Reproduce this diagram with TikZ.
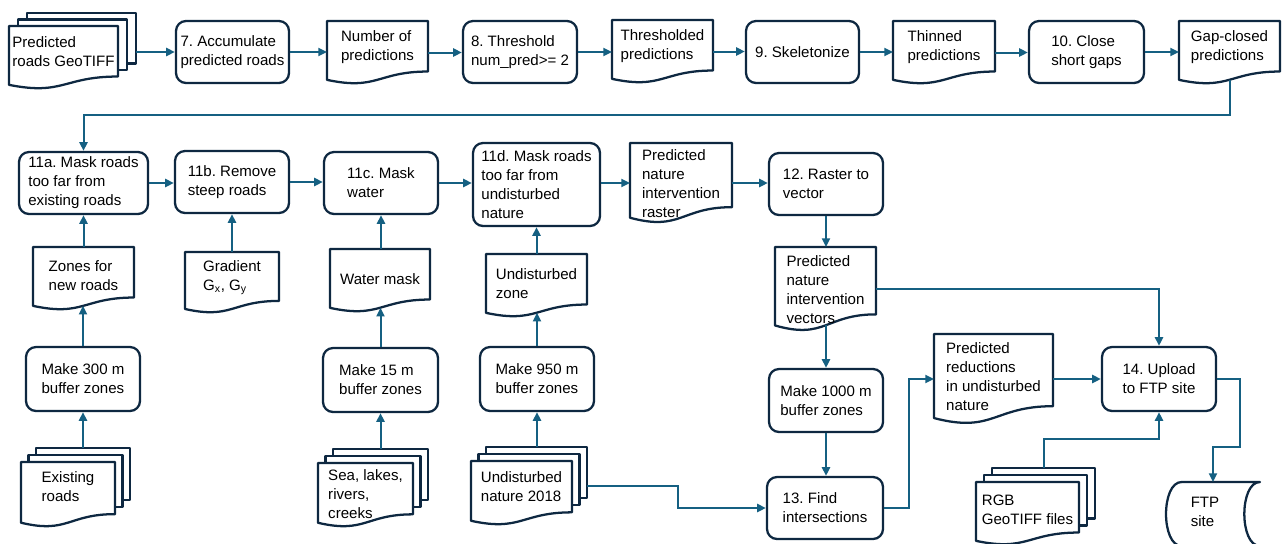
\documentclass[tikz,border=0pt]{standalone}
\usepackage{fontspec}
\setmainfont{Liberation Sans}
\frenchspacing
\usetikzlibrary{arrows.meta,fit,calc}
\definecolor{boxc}{HTML}{0E2841}
\definecolor{conc}{HTML}{156082}
\tikzset{
 box/.style={draw=boxc, line width=1.7pt, fill=white, line join=round},
 proc/.style={box, rounded corners=7.5pt, inner sep=0pt},
 txt/.style={align=left, font=\fontsize{11.3}{14.2}\selectfont, text=black, inner sep=0pt},
 conn/.style={draw=conc, line width=1.5pt, -{Triangle[length=6.5pt,width=6pt]}},
 anchorbox/.style={inner sep=0pt, outer sep=0pt},
}
% process box: name, x1, y1, x2, y2, text
\newcommand\procbox[6]{%
 \coordinate (#1-nw) at (#2,#3); \coordinate (#1-se) at (#4,#5);
 \node[proc, fit=(#1-nw)(#1-se)] (#1) {};
 \node[txt] at (#1.center) {#6};
}
% document: name, x1, y1, x2, y2, text-y, text
\newcommand\docbox[7]{%
 \coordinate (#1-nw) at (#2,#3); \coordinate (#1-se) at (#4,#5);
 \node[anchorbox, fit=(#1-nw)(#1-se)] (#1) {};
 \coordinate (#1-b) at ({(#2+#4)/2},{#3+0.933*(#5-#3)});
 \draw[box] (#2,#3) -- (#4,#3) -- (#4,{#3+0.802*(#5-#3)})
   .. controls ({(#2+#4)/2},{#3+0.802*(#5-#3)}) and ({(#2+#4)/2},{#3+1.107*(#5-#3)}) ..
   (#2,{#3+0.934*(#5-#3)}) -- cycle;
 \node[txt] at ({(#2+#4)/2},#6) {#7};
}
% multi document: name, x1, y1, x2, y2 (front page), dx, dy, text-y, text
\newcommand\multidoc[9]{%
 \draw[box] ({#2+2*#6},{#3-2*#7}) rectangle ({#4+2*#6},{#3+0.802*(#5-#3)-2*#7});
 \draw[box] ({#2+#6},{#3-#7}) rectangle ({#4+#6},{#3+0.802*(#5-#3)-#7});
 \docbox{#1-f}{#2}{#3}{#4}{#5}{#8}{#9}
 \coordinate (#1-nw) at (#2,{#3-2*#7}); \coordinate (#1-se) at ({#4+2*#6},#5);
 \node[anchorbox, fit=(#1-nw)(#1-se)] (#1) {};
 \coordinate (#1-t) at ({(#2+#4)/2+2*#6},{#3-2*#7});
}
\begin{document}
\begin{tikzpicture}[x=0.75pt, y=-0.75pt]
\useasboundingbox (0,0) rectangle (1282,543);
\fill[white] (0,0) rectangle (1282,543);
\clip (0,0) rectangle (1282,543);

% ---- top row ----
\multidoc{pred}{9}{26}{118}{89}{9}{6.5}{51.5}{Predicted\\roads GeoTIFF}
\procbox{acc}{176}{21}{289}{83}{7. Accumulate\\predicted roads}
\docbox{nump}{327}{21}{428}{84}{47}{Number of\\predictions}
\procbox{thr}{463}{21}{577}{83}{8. Threshold\\num\_pred>= 2}
\docbox{thrp}{612}{20}{713}{83}{46.5}{Thresholded\\predictions}
\procbox{skel}{746}{21}{859}{83}{9. Skeletonize}
\docbox{thin}{893}{21}{995}{84}{47}{Thinned\\predictions}
\procbox{close}{1029}{21}{1144}{83}{10. Close\\short gaps}
\docbox{gapc}{1179}{21}{1280}{84}{47}{Gap-closed\\predictions}

% ---- middle row ----
\procbox{m11a}{19}{152}{148}{214}{11a. Mask roads\\too far from\\existing roads}
\procbox{m11b}{175}{151}{289}{213}{11b. Remove\\steep roads}
\procbox{m11c}{324}{152}{438}{214}{11c. Mask\\water}
\procbox{m11d}{473}{143}{600}{226}{11d. Mask roads\\too far from\\undisturbed\\nature}
\docbox{rast}{630}{143}{732}{223}{184}{Predicted\\nature\\intervention\\raster}
\procbox{r2v}{769}{153}{883}{215}{12. Raster to\\vector}
\docbox{vect}{775}{247}{876}{331}{290}{Predicted\\nature\\intervention\\vectors}
\docbox{zones}{33}{247}{134}{310}{276}{Zones for\\new roads}
\docbox{grad}{185}{252}{279}{313}{277.5}{Gradient\\G\textsubscript{x}, G\textsubscript{y}}
\docbox{water}{330}{249}{430}{312}{279}{Water mask}
\docbox{uz}{486}{254}{587}{317}{283.5}{Undisturbed\\zone}

% ---- bottom part ----
\procbox{upl}{1102}{347}{1216}{411}{14. Upload\\to FTP site}
\docbox{red}{934}{334}{1053}{424}{377}{Predicted\\reductions\\in undisturbed\\nature}
\procbox{mk300}{26}{347}{140}{411}{Make 300 m\\buffer zones}
\multidoc{exr}{21}{462}{115}{527}{7.5}{7}{486.5}{Existing\\roads}
\procbox{mk15}{323}{348}{438}{412}{Make 15 m\\buffer zones}
\multidoc{sea}{318}{463}{413}{527}{7.5}{7}{494}{Sea, lakes,\\rivers,\\creeks}
\procbox{mk950}{480}{347}{594}{411}{Make 950 m\\buffer zones}
\multidoc{und}{471}{461}{572}{525}{7.5}{7}{486.5}{Undisturbed\\nature 2018}
\procbox{mk1000}{769}{369}{883}{432}{Make 1000 m\\buffer zones}
\procbox{fi}{767}{477}{883}{539}{13. Find\\intersections}
\multidoc{rgb}{976}{482}{1079}{545}{8}{7}{510}{RGB\\GeoTIFF files}
% stored data
\coordinate (ftp-nw) at (1166,482); \coordinate (ftp-se) at (1260,546);
\node[anchorbox, fit=(ftp-nw)(ftp-se)] (ftp) {};
\draw[box] (1181.7,482) -- (1260,482)
  .. controls (1239.1,482) and (1239.1,546) .. (1260,546) -- (1181.7,546)
  .. controls (1160.8,546) and (1160.8,482) .. (1181.7,482) -- cycle;
\node[txt] at (1205,512) {FTP\\site};

% ---- connectors ----
\draw[conn] (pred.east |- acc.west) -- (acc.west);
\draw[conn] (acc.east) -- (acc.east -| nump.west);
\draw[conn] (nump.east) -- (nump.east -| thr.west);
\draw[conn] (thr.east) -- (thr.east -| thrp.west);
\draw[conn] (thrp.east) -- (thrp.east -| skel.west);
\draw[conn] (skel.east) -- (skel.east -| thin.west);
\draw[conn] (thin.east) -- (thin.east -| close.west);
\draw[conn] (close.east) -- (close.east -| gapc.west);
\draw[conn] (gapc-b) -- ++(0,35) -| (m11a.north);

\draw[conn] (m11a.east) -- (m11a.east -| m11b.west);
\draw[conn] (m11b.east) -- (m11b.east -| m11c.west);
\draw[conn] (m11c.east) -- (m11c.east -| m11d.west);
\draw[conn] (m11d.east |- rast.west) -- (rast.west);
\draw[conn] (rast.east) -- (rast.east -| r2v.west);
\draw[conn] (r2v.south) -- (r2v.south |- vect.north);
\draw[conn] (vect.east) -| (upl.north);
\draw[conn] (mk1000.north |- vect-b) -- (mk1000.north);
\draw[conn] (mk1000.south) -- (mk1000.south |- fi.north);

\draw[conn] (m11a.south |- zones.north) -- (m11a.south);
\draw[conn] (mk300.north) -- (mk300.north |- zones-b);
\draw[conn] (mk300.south |- exr-t) -- (mk300.south);
\draw[conn] (m11b.south |- grad.north) -- (m11b.south);
\draw[conn] (m11c.south |- water.north) -- (m11c.south);
\draw[conn] (mk15.north) -- (mk15.north |- water-b);
\draw[conn] (mk15.south |- sea-t) -- (mk15.south);
\draw[conn] (m11d.south |- uz.north) -- (m11d.south);
\draw[conn] (mk950.north) -- (mk950.north |- uz-b);
\draw[conn] (mk950.south |- und-t) -- (mk950.south);

\draw[conn] (und.east) -- ++(91,0) |- (fi.west);
\draw[conn] (fi.east) -- ++(25,0) |- (red.west);
\draw[conn] (red.east) -- (red.east -| upl.west);
\draw[conn] (rgb-t) -- ++(0,-29) -| (upl.south);
\draw[conn] (upl.east) -- ++(23,0) -- ++(0,68) -| (ftp.north);
\end{tikzpicture}
\end{document}
